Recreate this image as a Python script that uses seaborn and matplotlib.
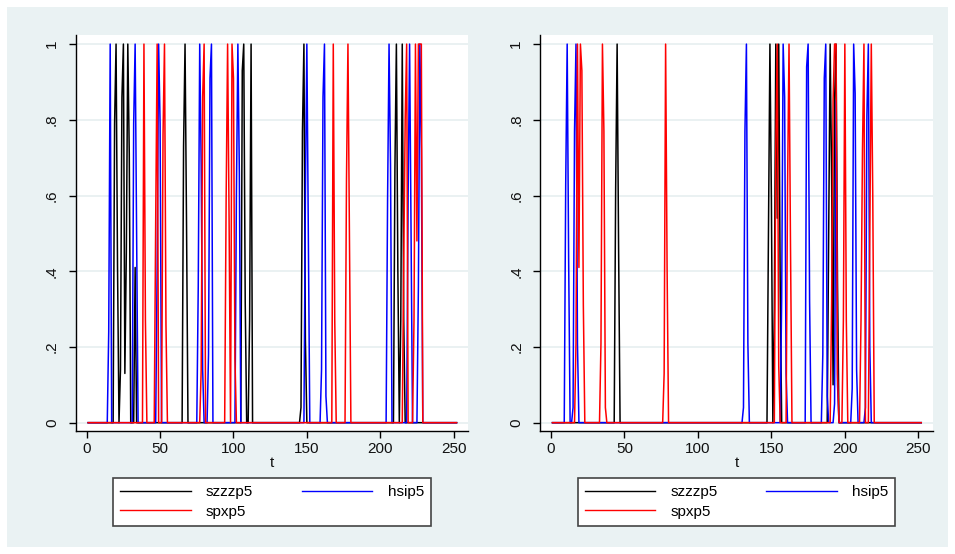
import numpy as np
import pandas as pd
import matplotlib
matplotlib.use('Agg')
import matplotlib.pyplot as plt
from matplotlib.patches import Rectangle
from matplotlib.lines import Line2D
import seaborn as sns

# ---------------- data ----------------
t_start, t_end = 1, 252
series_names = ['szzzp5', 'hsip5', 'spxp5']
series_colors = ['#000000', '#0000ff', '#ff0000']
x_ticks = [0, 50, 100, 150, 200, 250]
y_ticks = [0, 0.2, 0.4, 0.6, 0.8, 1.0]
y_tick_labels = ['0', '.2', '.4', '.6', '.8', '1']
x_label = 't'

# non-zero observations (t, value); all other t are 0
left_szzzp5 = [(19, 0.79), (20, 1.0), (21, 0.41), (23, 0.14), (24, 0.86), (25, 1.0), (26, 0.13),
               (27, 0.45), (28, 1.0), (29, 0.71), (33, 0.41), (66, 0.73), (67, 1.0), (68, 0.53),
               (106, 0.93), (107, 1.0), (108, 0.32), (111, 0.27), (112, 1.0),
               (146, 0.04), (147, 0.77), (148, 1.0), (149, 0.22),
               (210, 0.67), (211, 1.0), (212, 0.4), (214, 0.27), (215, 1.0), (216, 0.27)]
left_hsip5 = [(15, 0.24), (16, 1.0), (32, 0.79), (33, 1.0), (34, 0.5), (48, 0.41), (49, 1.0), (50, 0.79),
              (76, 0.36), (77, 1.0), (78, 0.68), (79, 0.14), (83, 0.18), (84, 0.91), (85, 1.0),
              (102, 0.6), (103, 1.0), (104, 0.66), (149, 0.6), (150, 1.0), (151, 0.5),
              (160, 0.14), (161, 0.86), (162, 1.0), (163, 0.07),
              (205, 0.59), (206, 1.0), (207, 0.68), (219, 0.6), (220, 1.0), (221, 0.5),
              (226, 0.36), (227, 1.0), (228, 0.72)]
left_spxp5 = [(39, 1.0), (40, 0.27), (47, 0.53), (48, 1.0), (52, 0.76), (53, 1.0), (54, 0.26),
              (78, 0.14), (79, 0.86), (80, 1.0), (95, 0.59), (96, 1.0), (97, 0.54),
              (99, 1.0), (100, 0.91), (101, 0.17), (168, 1.0), (169, 0.27),
              (177, 0.64), (178, 1.0), (179, 0.5), (216, 0.42), (217, 0.8), (218, 1.0),
              (223, 0.27), (224, 1.0), (225, 0.48), (226, 1.0), (227, 1.0), (228, 1.0)]

right_szzzp5 = [(44, 0.62), (45, 1.0), (46, 0.46), (148, 0.5), (149, 1.0), (150, 0.59),
                (152, 0.3), (153, 1.0), (154, 0.54), (155, 1.0), (156, 0.36),
                (189, 0.5), (190, 1.0), (191, 0.64), (192, 0.1), (193, 0.85), (194, 1.0), (195, 0.37)]
right_hsip5 = [(10, 0.63), (11, 1.0), (12, 0.43), (15, 0.04), (16, 0.77), (17, 1.0), (18, 0.21),
               (131, 0.04), (132, 0.77), (133, 1.0), (134, 0.21),
               (157, 0.33), (158, 1.0), (159, 0.86), (160, 0.13),
               (174, 0.94), (175, 1.0), (176, 0.32), (185, 0.18), (186, 0.91), (187, 1.0), (188, 0.07),
               (193, 0.05), (194, 0.85), (195, 0.1), (205, 0.09), (206, 1.0), (207, 0.87), (208, 0.14),
               (214, 0.04), (215, 0.81), (216, 1.0), (217, 0.2)]
right_spxp5 = [(17, 0.21), (18, 1.0), (19, 0.41), (20, 1.0), (21, 0.93), (22, 0.31),
               (34, 0.21), (35, 1.0), (36, 0.77), (37, 0.04), (77, 0.13), (78, 1.0), (79, 0.41),
               (153, 0.72), (154, 1.0), (155, 0.15), (161, 0.62), (162, 1.0), (163, 0.47),
               (191, 0.32), (192, 0.85), (193, 1.0), (194, 1.0), (195, 0.13),
               (199, 0.27), (200, 1.0), (201, 0.27), (211, 0.27), (212, 0.72), (213, 1.0),
               (217, 0.5), (218, 1.0), (219, 0.6)]


def build(spikes_by_series):
    t = np.arange(t_start, t_end + 1)
    frames = []
    for name, spikes in zip(series_names, spikes_by_series):
        v = np.zeros(len(t))
        for tt, val in spikes:
            v[tt - t_start] = val
        frames.append(pd.DataFrame({'t': t, 'value': v, 'series': name}))
    return pd.concat(frames, ignore_index=True)


df_left = build([left_szzzp5, left_hsip5, left_spxp5])
df_right = build([right_szzzp5, right_hsip5, right_spxp5])

# ---------------- figure ----------------
plt.rcParams['font.family'] = ['Liberation Sans', 'DejaVu Sans']
W, H = 955, 554
fig = plt.figure(figsize=(W / 100, H / 100), dpi=100)
fig.patch.set_facecolor('white')
fig.add_artist(Rectangle((7 / W, 7 / H), (948 - 7) / W, (547 - 7) / H, transform=fig.transFigure,
                         facecolor='#eaf2f3', edgecolor='none', zorder=0))


def axbox(l, r, top, bot):
    return [l / W, 1 - bot / H, (r - l) / W, (bot - top) / H]


ax1 = fig.add_axes(axbox(75.7, 468.3, 35, 431))
ax2 = fig.add_axes(axbox(540, 933, 35, 431))
palette = dict(zip(series_names, series_colors))

for ax, df, leg_cx in [(ax1, df_left, 272.0), (ax2, df_right, 736.5)]:
    ax.set_facecolor('white')
    sns.lineplot(data=df, x='t', y='value', hue='series', hue_order=series_names, palette=palette,
                 estimator=None, linewidth=1.1, legend=False, ax=ax)
    ax.set_xlim(-7.5, 260)
    ax.set_ylim(-0.022, 1.024)
    ax.set_xticks(x_ticks)
    ax.set_xticklabels([str(v) for v in x_ticks])
    ax.set_yticks(y_ticks)
    ax.set_yticklabels(y_tick_labels, rotation=90, va='center')
    ax.grid(False)
    ax.yaxis.grid(True, color='#e6eff0', lw=1.2)
    ax.set_axisbelow(True)
    for s in ['top', 'right']:
        ax.spines[s].set_visible(False)
    for s in ['left', 'bottom']:
        ax.spines[s].set_color('black')
        ax.spines[s].set_linewidth(1.0)
    ax.tick_params(direction='out', length=5, width=1, color='black', labelsize=11,
                   labelcolor='#111111', bottom=True, left=True)
    ax.tick_params(axis='y', pad=7)
    ax.tick_params(axis='x', pad=3)
    ax.set_xlabel(x_label, fontsize=11, labelpad=0, color='#111111')
    ax.set_ylabel('')

    handles = [Line2D([], [], color=c, lw=1.0) for c in series_colors]
    leg = fig.legend(handles=[handles[0], handles[2], handles[1]],
                     labels=[series_names[0], series_names[2], series_names[1]],
                     ncol=2, loc='center', bbox_to_anchor=(leg_cx / W, 1 - 502 / H),
                     bbox_transform=fig.transFigure, frameon=True, fancybox=False,
                     edgecolor='#444444', facecolor='white', framealpha=1,
                     handlelength=4.6, handletextpad=1.0, columnspacing=3.2,
                     labelspacing=0.35, borderpad=0.45, fontsize=11)
    leg.get_frame().set_linewidth(1.2)

fig.savefig('out.png', dpi=100)
